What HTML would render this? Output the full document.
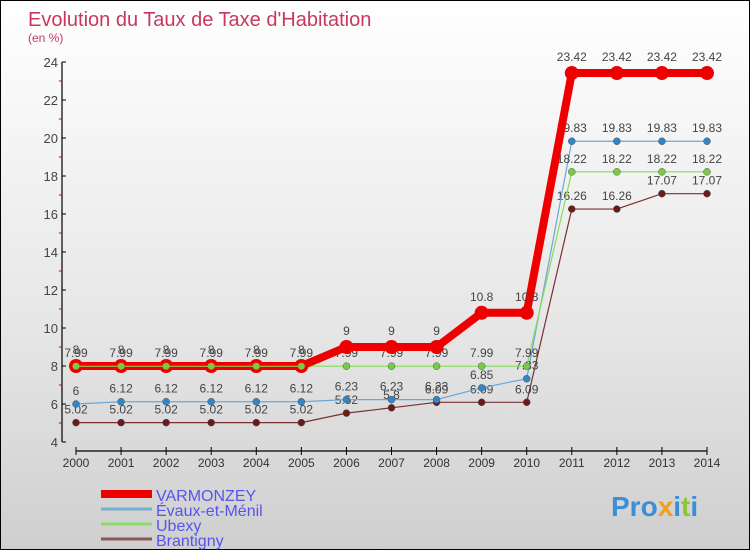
<!DOCTYPE html>
<html><head><meta charset="utf-8"><style>
body{margin:0;width:750px;height:550px;overflow:hidden;font-family:"Liberation Sans",sans-serif}
#wrap{position:relative;width:748px;height:548px;border:1px solid #000;background:linear-gradient(#ffffff,#e6e6e6 60%,#cfcfcf)}
svg{position:absolute;left:0;top:0}
</style></head><body>
<div id="wrap">
<svg id="chart" width="750" height="550">
<text x="27" y="25" font-size="20" fill="#c8385e">Evolution du Taux de Taxe d'Habitation</text>
<text x="27" y="41" font-size="12" fill="#c8385e">(en %)</text>
<text x="610" y="515" font-size="28" font-weight="bold" fill="#3a8fd8">Pro<tspan fill="#f0a020">x</tspan>i<tspan fill="#8cc43c">t</tspan>i</text>
</svg>
</div>
<script>
const years=[2000,2001,2002,2003,2004,2005,2006,2007,2008,2009,2010,2011,2012,2013,2014];
const varmonzey=[8,8,8,8,8,8,9,9,9,10.8,10.8,23.42,23.42,23.42,23.42];
const evaux=[6,6.12,6.12,6.12,6.12,6.12,6.23,6.23,6.23,6.85,7.33,19.83,19.83,19.83,19.83];
const ubexy=[7.99,7.99,7.99,7.99,7.99,7.99,7.99,7.99,7.99,7.99,7.99,18.22,18.22,18.22,18.22];
const brantigny=[5.02,5.02,5.02,5.02,5.02,5.02,5.52,5.8,6.09,6.09,6.09,16.26,16.26,17.07,17.07];
const yTicks=[4,6,8,10,12,14,16,18,20,22,24];
const seriesNames=["VARMONZEY","Évaux-et-Ménil","Ubexy","Brantigny"];
const svg=document.getElementById('chart');const NS="http://www.w3.org/2000/svg";
const X=i=>75+i*(706-75)/(years.length-1);
const Y=v=>441-(v-4)*19;
function mk(t,a,p){const e=document.createElementNS(NS,t);for(const k in a)e.setAttribute(k,a[k]);(p||svg).appendChild(e);return e;}
let ax=mk('line',{x1:61,y1:61,x2:61,y2:441,stroke:'#000','stroke-width':1.2});


let bx=mk('line',{x1:75,y1:450,x2:706,y2:450,stroke:'#000','stroke-width':1.2});


yTicks.forEach(v=>{mk('line',{x1:61,y1:Y(v),x2:65,y2:Y(v),stroke:'#000'});
 if(v<24)mk('line',{x1:58,y1:Y(v+1),x2:61,y2:Y(v+1),stroke:'#d00'});
 const t=mk('text',{x:57,y:Y(v)+5,'font-size':13,'text-anchor':'end',fill:'#444'});t.textContent=v;
 
 });
years.forEach((y,i)=>{mk('line',{x1:X(i),y1:446,x2:X(i),y2:454,stroke:'#000'});
 const t=mk('text',{x:X(i),y:466,'font-size':12,'text-anchor':'middle',fill:'#333'});t.textContent=y;
 
 });
const defs=[[brantigny,'#7a3030','#6a1a1a',1.2,3.5],[evaux,'#6aa8d8','#2f86c8',1.2,3.5],[ubexy,'#88dd55','#77cc44',1.2,3.5],[varmonzey,'#ee0000','#ee0000',8,7]];
const names=['brantigny','evaux','ubexy','varmonzey'];
defs.forEach((d,k)=>{const [vals,c,pc,w,r]=d;
 const pl=mk('polyline',{points:vals.map((v,i)=>X(i)+','+Y(v)).join(' '),fill:'none',stroke:c,'stroke-width':w,'stroke-linejoin':'round'});
 
 
 vals.forEach((v,i)=>{const p=mk('circle',{cx:X(i),cy:Y(v),r:r,fill:pc,stroke:k==3?'#ee0000':'#555','stroke-width':k==3?0:0.5});
  
  
  const t=mk('text',{x:X(i),y:Y(v)-(k==3?12:9),'font-size':12,'text-anchor':'middle',fill:'#444'});t.textContent=v;
  
  });
});
const ov=mk('polyline',{points:ubexy.slice(0,6).map((v,i)=>X(i)+','+Y(v)).join(' '),fill:'none',stroke:'#88dd55','stroke-width':1});


ubexy.forEach((v,i)=>{if(i<6){const p=mk('circle',{cx:X(i),cy:Y(v),r:3.5,fill:'#77cc44'});
 
 }});
const lc=['#ee0000','#7aaed0','#88dd66','#8a5a5a'],lw=[8,3,3,3];
seriesNames.forEach((n,i)=>{const y=493+i*15;
 const l=mk('line',{x1:100,y1:y,x2:151,y2:y,stroke:lc[i],'stroke-width':lw[i]});
 
 
 const t=mk('text',{x:155,y:y+7,'font-size':16,fill:'#5555ee'});t.textContent=n;
 
 });
</script>
</body></html>
